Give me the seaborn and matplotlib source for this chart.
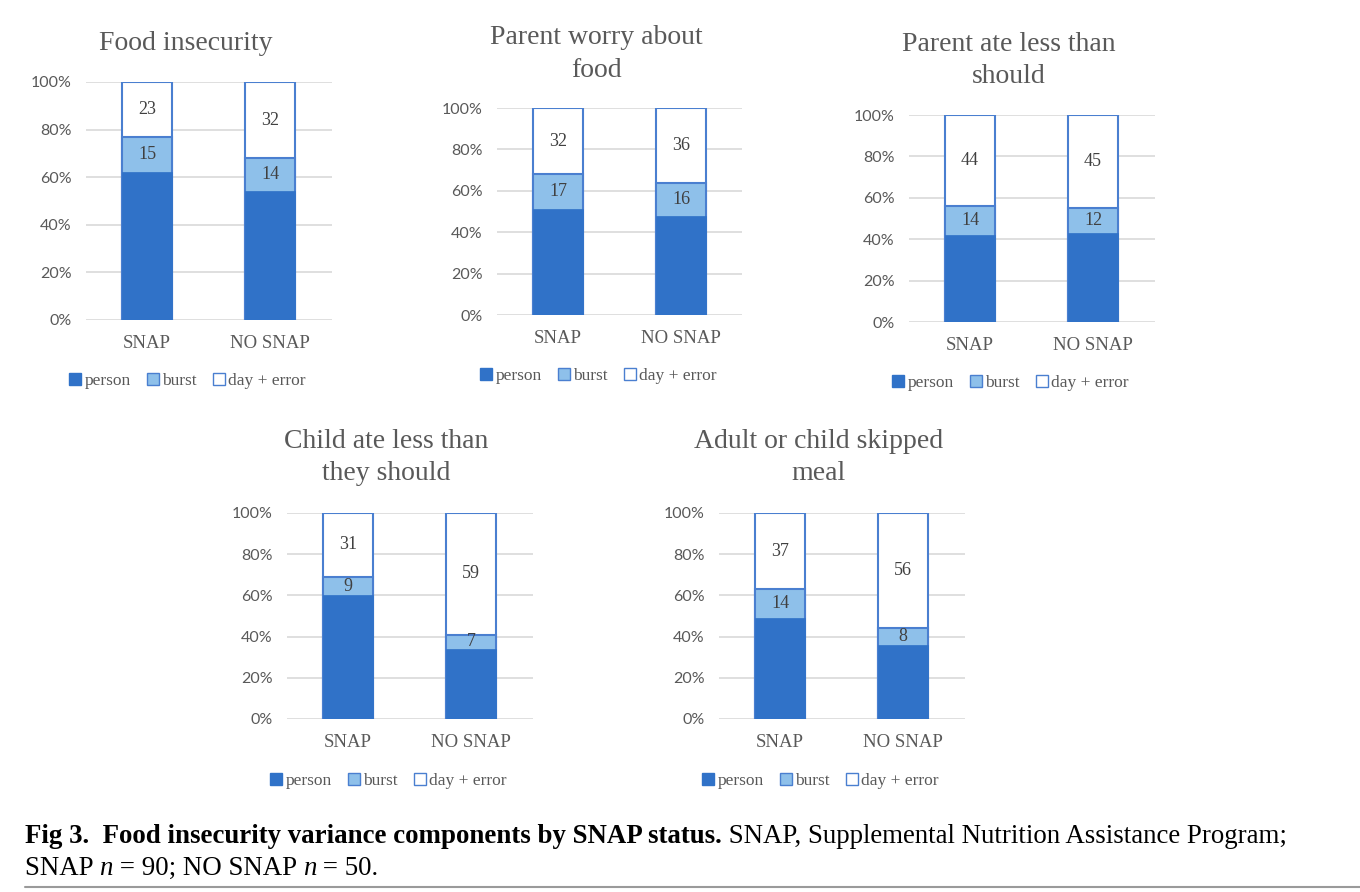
import matplotlib
matplotlib.use("Agg")
import matplotlib.pyplot as plt
import seaborn as sns
import pandas as pd
from matplotlib.lines import Line2D

sns.set_theme(style="white")
plt.rcParams['font.family'] = ['Liberation Serif', 'DejaVu Serif']

# ---- data ----
groups = ["SNAP", "NO SNAP"]
titles = ["Food insecurity", "Parent worry about\nfood", "Parent ate less than\nshould",
          "Child ate less than\nthey should", "Adult or child skipped\nmeal"]
person = [[62, 54], [51, 48], [42, 43], [60, 34], [49, 36]]
burst = [[15, 14], [17, 16], [14, 12], [9, 7], [14, 8]]
day_error = [[23, 32], [32, 36], [44, 45], [31, 59], [37, 56]]
legend_labels = ["person", "burst", "day + error"]
yticks = [0, 20, 40, 60, 80, 100]
ytick_labels = ["0%", "20%", "40%", "60%", "80%", "100%"]

DARK = "#3072C8"
LIGHT = "#8EC0EA"
EDGE = "#4A7FD0"
GRID = "#D9D9D9"
TXT = "#595959"

W, H = 1360, 892
fig = plt.figure(figsize=(W / 100, H / 100), dpi=100)

# panel geometry in pixels: (left, right, y0 (0%), y100 (100%), title_center_y, legend_y)
panels = [
    (85.5, 331.5, 320, 82, 43, 381),
    (496.5, 742.5, 315, 108, 54, 376),
    (908.5, 1154.5, 322, 115, 60.5, 383),
    (286.5, 532.5, 719, 513, 457.5, 781),
    (718.5, 964.5, 719, 513, 457.5, 781),
]

for i, (l, r, y0, y1, ty, ly) in enumerate(panels):
    ax = fig.add_axes([l / W, 1 - y0 / H, (r - l) / W, (y0 - y1) / H])
    df = pd.DataFrame({
        "group": groups,
        "total": [p + b + d for p, b, d in zip(person[i], burst[i], day_error[i])],
        "pb": [p + b for p, b in zip(person[i], burst[i])],
        "p": person[i],
    })
    bw = 50 / 123
    sns.barplot(data=df, x="group", y="total", color="white", edgecolor=EDGE,
                linewidth=1.5, width=bw, ax=ax, zorder=2, saturation=1)
    sns.barplot(data=df, x="group", y="pb", color=LIGHT, edgecolor=EDGE,
                linewidth=1.5, width=bw, ax=ax, zorder=3, saturation=1)
    sns.barplot(data=df, x="group", y="p", color=DARK, edgecolor=DARK,
                linewidth=0.5, width=bw, ax=ax, zorder=4, saturation=1)
    ax.set_xlim(-0.5, 1.5)
    ax.set_ylim(0, 100)
    ax.set_yticks(yticks)
    ax.set_yticklabels(ytick_labels, family=["Lato", "DejaVu Sans"], fontsize=11.5, color=TXT)
    ax.set_xticklabels(groups, fontsize=13.5, color=TXT)
    ax.tick_params(axis="both", length=0)
    ax.tick_params(axis="y", pad=10)
    ax.tick_params(axis="x", pad=11)
    ax.set_xlabel("")
    ax.set_ylabel("")
    for s in ax.spines.values():
        s.set_visible(False)
    ax.yaxis.grid(True, color=GRID, linewidth=1.2, zorder=0)
    ax.set_axisbelow(True)
    for j in range(2):
        p, b, d = person[i][j], burst[i][j], day_error[i][j]
        ax.text(j, p + b / 2, str(b), ha="center", va="center", fontsize=13, color="#404040", zorder=6)
        ax.text(j, p + b + d / 2, str(d), ha="center", va="center", fontsize=13, color="#404040", zorder=6)
    fig.text(((l + r) / 2 - 23) / W, 1 - ty / H, titles[i], ha="center", va="center",
             fontsize=20, color=TXT, linespacing=1.42)
    handles = [
        Line2D([], [], marker="s", linestyle="none", markersize=8.5, markerfacecolor=DARK, markeredgecolor=DARK),
        Line2D([], [], marker="s", linestyle="none", markersize=8.5, markerfacecolor=LIGHT, markeredgecolor=EDGE),
        Line2D([], [], marker="s", linestyle="none", markersize=8.5, markerfacecolor="white", markeredgecolor=EDGE),
    ]
    leg = fig.legend(handles, legend_labels, loc="center", ncol=3,
                     bbox_to_anchor=(((l + r) / 2 - 21) / W, 1 - ly / H), frameon=False,
                     fontsize=12.5, handlelength=0.7, handletextpad=0.2, columnspacing=0.9,
                     borderpad=0)
    for t in leg.get_texts():
        t.set_color(TXT)

# ---- caption ----
fig.canvas.draw()
renderer = fig.canvas.get_renderer()

def put_seq(x_px, y_px, pieces):
    x = x_px
    for txt, kw in pieces:
        t = fig.text(x / W, 1 - y_px / H, txt, ha="left", va="baseline", fontsize=19.4,
                     color="black", **kw)
        bb = t.get_window_extent(renderer=renderer)
        x += bb.width

put_seq(25, 843, [("Fig 3.  Food insecurity variance components by SNAP status.", {"fontweight": "bold"}),
                  (" SNAP, Supplemental Nutrition Assistance Program;", {})])
put_seq(25, 875, [("SNAP ", {}), ("n", {"fontstyle": "italic"}), (" = 90; NO SNAP ", {}),
                  ("n", {"fontstyle": "italic"}), (" = 50.", {})])

fig.add_artist(Line2D([25 / W, 1], [1 - 887 / H, 1 - 887 / H], color="#9A9A9A", linewidth=1.5))

fig.savefig("out.png", dpi=100)
